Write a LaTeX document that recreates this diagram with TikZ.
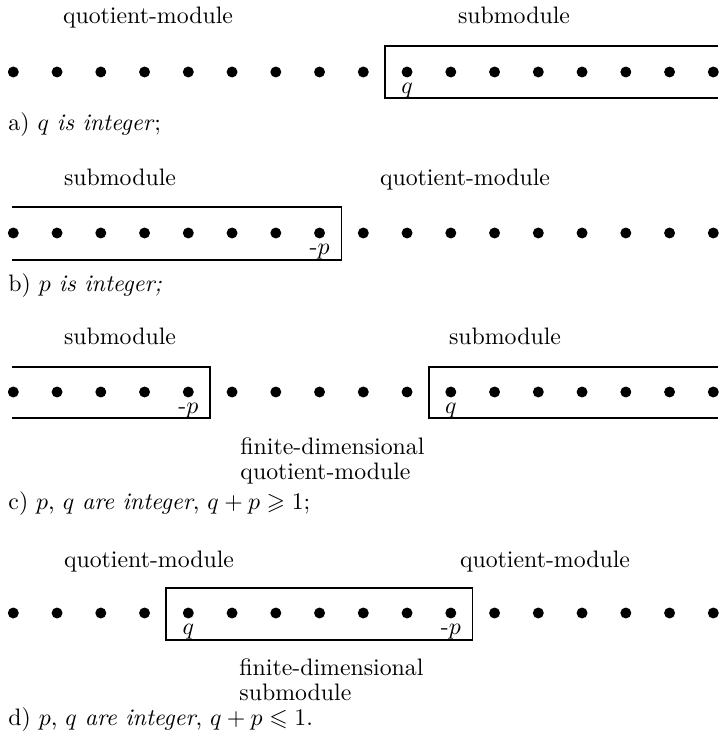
\documentclass[tikz,border=0pt]{standalone}
\usepackage{amsmath,amssymb}
\usetikzlibrary{positioning,calc}

\begin{document}
\begin{tikzpicture}[
  x=0.42pt, y=-0.42pt,
  dot/.style={circle, fill, inner sep=0pt, minimum size=4.6pt},
  idx/.style={inner sep=0pt},
  mlabel/.style={anchor=base},
  caption/.style={anchor=base west, inner sep=0pt},
  twoline/.style={anchor=north west, align=left, inner sep=0pt},
  frame/.style={line width=0.55pt}
]
  \useasboundingbox (0,0) rectangle (718,736);

  % the four rows of points
  \foreach \r/\y in {a/72, b/233, c/392, d/613}
    \foreach \i in {0,...,16}
      \node[dot] (\r\i) at ({13.3+43.75*\i},\y) {};

  % a)
  \node[mlabel] (qma) at (148,24) {quotient-module};
  \node[mlabel] (sma) at (514,24) {submodule};
  \draw[frame] (718,46) -- (385,46) -- (385,98) -- (718,98);
  \node[idx, below=2pt of a9] (qa) {$q$};
  \node[caption] (capa) at (8,131) {a) $q$ \textit{is integer};};

  % b)
  \node[mlabel] (smb) at (120,186) {submodule};
  \node[mlabel] (qmb) at (465,186) {quotient-module};
  \draw[frame] (12,207) -- (341.5,207) -- (341.5,260) -- (12,260);
  \node[idx, below=2pt of b7] (pb) {-$p$};
  \node[caption] (capb) at (8,292) {b) $p$ \textit{is integer;}};

  % c)
  \node[mlabel] (smc1) at (120,345) {submodule};
  \node[mlabel] (smc2) at (505,345) {submodule};
  \draw[frame] (12,367) -- (210,367) -- (210,418) -- (12,418);
  \draw[frame] (718,367) -- (429,367) -- (429,418) -- (718,418);
  \node[idx, below=2pt of c4] (pc) {-$p$};
  \node[idx, below=2pt of c10] (qc) {$q$};
  \node[twoline] (fdc) at (240,437) {finite-dimensional\\[-1.5pt]quotient-module};
  \node[caption] (capc) at (8,509)
    {c) $p$, $q$ \textit{are integer}, $q+p\geqslant 1$;};

  % d)
  \node[mlabel] (qmd1) at (149,567) {quotient-module};
  \node[mlabel] (qmd2) at (545,567) {quotient-module};
  \draw[frame] (166,588) rectangle (472.5,640);
  \node[idx, below=2pt of d4] (qd) {$q$};
  \node[idx, below=2pt of d10] (pd) {-$p$};
  \node[twoline] (fdd) at (239,658) {finite-dimensional\\[-1.5pt]submodule};
  \node[caption] (capd) at (8,725)
    {d) $p$, $q$ \textit{are integer}, $q+p\leqslant 1$.};
\end{tikzpicture}
\end{document}
